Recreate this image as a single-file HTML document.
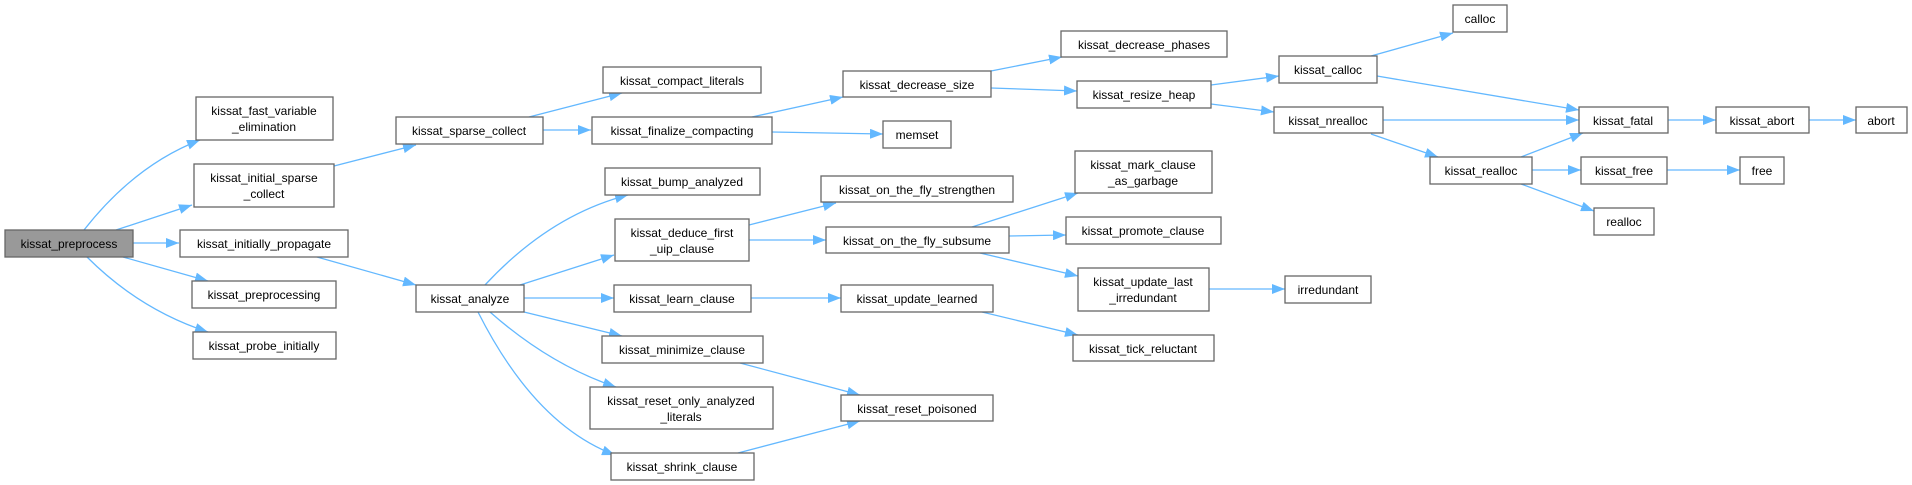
<!DOCTYPE html>
<html><head><meta charset="utf-8"><style>
html,body{margin:0;padding:0;background:#fff;}
svg{display:block;}
text{font-family:"Liberation Sans",Arial,sans-serif;font-size:12px;fill:#000;text-anchor:middle;}
.n{fill:#fff;stroke:#666;stroke-width:1.3;}
.g{fill:#999;stroke:#666;stroke-width:1.3;}
.e{fill:none;stroke:#63b8ff;stroke-width:1.3;}
</style></head><body>
<svg width="1912" height="485" viewBox="0 0 1912 485" xmlns="http://www.w3.org/2000/svg">
<defs><marker id="a" markerUnits="userSpaceOnUse" markerWidth="14" markerHeight="10" refX="13" refY="5" orient="auto"><path d="M0,0 L13,5 L0,10 z" fill="#63b8ff"/></marker></defs>
<g marker-end="url(#a)">
<path class="e" d="M84,230 Q135,165 200,140"/>
<path class="e" d="M116,230 L192,205"/>
<path class="e" d="M133,243 L179,243"/>
<path class="e" d="M123,257 L208,281"/>
<path class="e" d="M87,257 Q140,310 208,332"/>
<path class="e" d="M334,166 L416,145"/>
<path class="e" d="M317,257 L416,285"/>
<path class="e" d="M529,117 L622,93"/>
<path class="e" d="M543,130 L591,130"/>
<path class="e" d="M485,285 Q550,215 628,195"/>
<path class="e" d="M520,285 L614,255"/>
<path class="e" d="M524,298 L614,298"/>
<path class="e" d="M524,312 L622,336"/>
<path class="e" d="M490,312 Q550,365 616,387"/>
<path class="e" d="M478,312 Q535,425 615,455"/>
<path class="e" d="M752,117 L843,97"/>
<path class="e" d="M772,132 L883,134"/>
<path class="e" d="M991,71 L1062,57"/>
<path class="e" d="M991,88 L1077,91"/>
<path class="e" d="M1211,85 L1279,76"/>
<path class="e" d="M1211,104 L1274,112"/>
<path class="e" d="M1371,56 L1453,33"/>
<path class="e" d="M1377,76 L1579,110"/>
<path class="e" d="M1383,120 L1579,120"/>
<path class="e" d="M1371,134 L1438,157"/>
<path class="e" d="M1521,157 L1583,133"/>
<path class="e" d="M1532,170 L1581,170"/>
<path class="e" d="M1521,184 L1594,211"/>
<path class="e" d="M1668,120 L1716,120"/>
<path class="e" d="M1809,120 L1856,120"/>
<path class="e" d="M1667,170 L1740,170"/>
<path class="e" d="M749,225 L836,203"/>
<path class="e" d="M749,240 L826,240"/>
<path class="e" d="M972,227 L1078,193"/>
<path class="e" d="M1009,236 L1066,235"/>
<path class="e" d="M980,253 L1078,276"/>
<path class="e" d="M1209,289 L1285,289"/>
<path class="e" d="M751,298 L841,298"/>
<path class="e" d="M982,312 L1078,335"/>
<path class="e" d="M740,363 L860,395"/>
<path class="e" d="M738,453 L860,421"/>
</g>
<rect class="g" x="5" y="230" width="128" height="27"/><text x="69" y="248">kissat_preprocess</text>
<rect class="n" x="196" y="97" width="137" height="43"/><text x="264" y="115">kissat_fast_variable</text><text x="264" y="131">_elimination</text>
<rect class="n" x="194" y="164" width="140" height="43"/><text x="264" y="182">kissat_initial_sparse</text><text x="264" y="198">_collect</text>
<rect class="n" x="180" y="230" width="168" height="27"/><text x="264" y="248">kissat_initially_propagate</text>
<rect class="n" x="192" y="281" width="144" height="27"/><text x="264" y="299">kissat_preprocessing</text>
<rect class="n" x="193" y="332" width="143" height="27"/><text x="264" y="350">kissat_probe_initially</text>
<rect class="n" x="396" y="117" width="147" height="27"/><text x="469" y="135">kissat_sparse_collect</text>
<rect class="n" x="416" y="285" width="108" height="27"/><text x="470" y="303">kissat_analyze</text>
<rect class="n" x="603" y="67" width="158" height="26"/><text x="682" y="85">kissat_compact_literals</text>
<rect class="n" x="592" y="117" width="180" height="27"/><text x="682" y="135">kissat_finalize_compacting</text>
<rect class="n" x="605" y="168" width="155" height="27"/><text x="682" y="186">kissat_bump_analyzed</text>
<rect class="n" x="615" y="219" width="134" height="42"/><text x="682" y="237">kissat_deduce_first</text><text x="682" y="253">_uip_clause</text>
<rect class="n" x="614" y="285" width="137" height="27"/><text x="682" y="303">kissat_learn_clause</text>
<rect class="n" x="602" y="336" width="161" height="27"/><text x="682" y="354">kissat_minimize_clause</text>
<rect class="n" x="590" y="387" width="183" height="42"/><text x="681" y="405">kissat_reset_only_analyzed</text><text x="681" y="421">_literals</text>
<rect class="n" x="611" y="453" width="143" height="27"/><text x="682" y="471">kissat_shrink_clause</text>
<rect class="n" x="843" y="71" width="148" height="26"/><text x="917" y="89">kissat_decrease_size</text>
<rect class="n" x="883" y="121" width="68" height="27"/><text x="917" y="139">memset</text>
<rect class="n" x="821" y="176" width="192" height="26"/><text x="917" y="194">kissat_on_the_fly_strengthen</text>
<rect class="n" x="826" y="227" width="183" height="26"/><text x="917" y="245">kissat_on_the_fly_subsume</text>
<rect class="n" x="841" y="285" width="152" height="27"/><text x="917" y="303">kissat_update_learned</text>
<rect class="n" x="841" y="395" width="152" height="26"/><text x="917" y="413">kissat_reset_poisoned</text>
<rect class="n" x="1061" y="31" width="166" height="26"/><text x="1144" y="49">kissat_decrease_phases</text>
<rect class="n" x="1077" y="81" width="134" height="27"/><text x="1144" y="99">kissat_resize_heap</text>
<rect class="n" x="1075" y="151" width="137" height="42"/><text x="1143" y="169">kissat_mark_clause</text><text x="1143" y="185">_as_garbage</text>
<rect class="n" x="1066" y="217" width="155" height="27"/><text x="1143" y="235">kissat_promote_clause</text>
<rect class="n" x="1078" y="268" width="131" height="43"/><text x="1143" y="286">kissat_update_last</text><text x="1143" y="302">_irredundant</text>
<rect class="n" x="1073" y="335" width="141" height="26"/><text x="1143" y="353">kissat_tick_reluctant</text>
<rect class="n" x="1453" y="5" width="54" height="27"/><text x="1480" y="23">calloc</text>
<rect class="n" x="1279" y="56" width="98" height="27"/><text x="1328" y="74">kissat_calloc</text>
<rect class="n" x="1274" y="107" width="109" height="26"/><text x="1328" y="125">kissat_nrealloc</text>
<rect class="n" x="1579" y="107" width="89" height="26"/><text x="1623" y="125">kissat_fatal</text>
<rect class="n" x="1716" y="107" width="93" height="26"/><text x="1762" y="125">kissat_abort</text>
<rect class="n" x="1856" y="107" width="51" height="26"/><text x="1881" y="125">abort</text>
<rect class="n" x="1430" y="157" width="102" height="27"/><text x="1481" y="175">kissat_realloc</text>
<rect class="n" x="1581" y="157" width="86" height="27"/><text x="1624" y="175">kissat_free</text>
<rect class="n" x="1740" y="157" width="44" height="27"/><text x="1762" y="175">free</text>
<rect class="n" x="1594" y="208" width="60" height="27"/><text x="1624" y="226">realloc</text>
<rect class="n" x="1285" y="276" width="86" height="27"/><text x="1328" y="294">irredundant</text>
</svg>
</body></html>
